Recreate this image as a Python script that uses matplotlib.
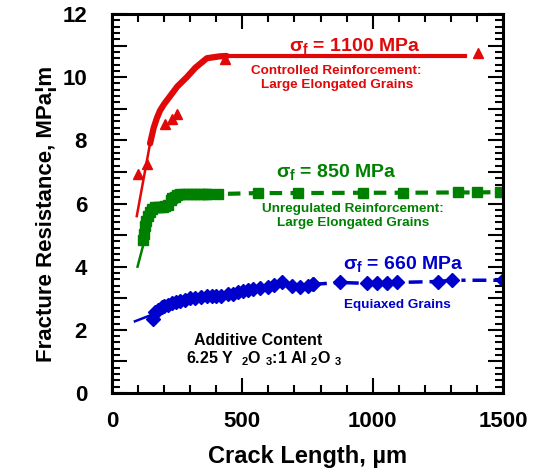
import numpy as np
import matplotlib
matplotlib.use("Agg")
import matplotlib.pyplot as plt
from matplotlib.ticker import MultipleLocator, FuncFormatter

# colours
RED, GREEN, BLUE = "#e00808", "#008000", "#0000cc"

# --- data (crack length in um, resistance in MPa*sqrt(m)) ---
# controlled reinforcement, sigma_f = 1100 MPa
red_fit_x = [95, 146]
red_fit_y = [5.6, 7.9]
red_band_x = [146, 160, 172, 184, 200, 222, 250, 287, 320, 364, 414, 440]
red_band_y = [7.9, 8.4, 8.7, 8.94, 9.15, 9.39, 9.7, 10.0, 10.3, 10.6, 10.66, 10.67]
red_flat_x = [440, 1354]
red_flat_y = [10.68, 10.68]
red_tri_x = [100, 134, 203, 229, 250, 433, 1404]
red_tri_y = [6.94, 7.26, 8.53, 8.66, 8.82, 10.57, 10.75]

# unregulated reinforcement, sigma_f = 850 MPa
green_fit_x = [98, 125]
green_fit_y = [4.0, 4.85]
green_band_x = [120, 124, 128, 132, 138, 146, 155, 165, 175, 185, 195, 205, 215,
                225, 232, 240, 250, 262, 275, 290, 305, 320, 335, 350, 365]
green_band_y = [4.85, 5.05, 5.3, 5.45, 5.6, 5.72, 5.82, 5.88, 5.88, 5.9, 5.9, 5.92, 5.95,
                6.1, 6.18, 6.22, 6.28, 6.3, 6.3, 6.3, 6.3, 6.3, 6.3, 6.3, 6.3]
green_tail_x = [365, 407, 560, 713, 963, 1116, 1327, 1400, 1488]
green_tail_y = [6.3, 6.3, 6.33, 6.33, 6.34, 6.34, 6.35, 6.35, 6.36]

# equiaxed grains, sigma_f = 660 MPa
blue_fit_x = [88, 160]
blue_fit_y = [2.27, 2.5]
blue_band_x = [157, 165, 177, 190, 200, 215, 230, 245, 261, 280, 300, 318, 340, 363,
               383, 400, 420, 445, 465, 485, 503, 520, 540, 568, 598, 620, 651, 690, 721, 750, 771]
blue_band_y = [2.35, 2.55, 2.64, 2.72, 2.75, 2.8, 2.85, 2.88, 2.9, 2.95, 3.0, 3.02, 3.05, 3.06,
               3.06, 3.07, 3.08, 3.12, 3.15, 3.2, 3.22, 3.26, 3.3, 3.34, 3.37, 3.42, 3.5, 3.4, 3.37, 3.4, 3.44]
blue_tail_x = [771, 875, 978, 1016, 1055, 1093, 1251, 1304, 1500]
blue_tail_y = [3.44, 3.5, 3.47, 3.47, 3.47, 3.5, 3.53, 3.57, 3.57]

plt.rcParams["font.family"] = ["Liberation Sans", "DejaVu Sans"]
plt.rcParams["font.weight"] = "bold"
plt.rcParams["mathtext.fontset"] = "custom"
plt.rcParams["mathtext.rm"] = "Liberation Sans:bold"
plt.rcParams["mathtext.it"] = "Liberation Sans:bold"
plt.rcParams["mathtext.bf"] = "Liberation Sans:bold"
plt.rcParams["mathtext.default"] = "bf"

fig = plt.figure(figsize=(5.34, 4.72), dpi=100)
ax = fig.add_axes([112 / 534, 1 - 393 / 472, 391 / 534, 379 / 472])

# red
ax.plot(red_fit_x, red_fit_y, "-", color=RED, lw=1.8)
ax.plot(red_band_x, red_band_y, "-", color=RED, lw=4.5, solid_capstyle="round")
ax.plot(red_flat_x, red_flat_y, "-", color=RED, lw=3)
ax.plot(red_tri_x, red_tri_y, "^", color=RED, ms=7.5, ls="none")

# green
ax.plot(green_fit_x, green_fit_y, "-", color=GREEN, lw=1.8)
ax.plot(green_band_x, green_band_y, "s", color=GREEN, ms=7, ls="-", lw=3)
ax.plot(green_tail_x, green_tail_y, "s", color=GREEN, ms=6.5, ls=(0, (3, 2)), lw=3)

# blue
ax.plot(blue_fit_x, blue_fit_y, "-", color=BLUE, lw=1.8)
ax.plot(blue_band_x, blue_band_y, "D", color=BLUE, ms=7.5, ls="-", lw=2.5)
ax.plot(blue_tail_x, blue_tail_y, "D", color=BLUE, ms=7, ls=(0, (4, 2, 1.2, 2)), lw=2.5)

ax.set_xlim(0, 1500)
ax.set_ylim(0, 12)
ax.xaxis.set_major_locator(MultipleLocator(500))
ax.xaxis.set_minor_locator(MultipleLocator(100))
ax.yaxis.set_major_locator(MultipleLocator(1))
ax.yaxis.set_minor_locator(MultipleLocator(0.2))
ax.yaxis.set_major_formatter(FuncFormatter(lambda v, p: f"{int(v)}" if int(round(v)) % 2 == 0 else ""))

for s in ax.spines.values():
    s.set_linewidth(2.2)
ax.tick_params(which="both", direction="in", top=True, right=True, width=1.5)
ax.tick_params(which="major", length=11, labelsize=16)
ax.tick_params(which="minor", length=5.5)
ax.tick_params(axis="x", pad=13)
ax.tick_params(axis="y", pad=18)

ax.set_xlabel("Crack Length, µm", fontsize=17, fontweight="bold", labelpad=9)
ax.set_ylabel("Fracture Resistance, MPa¦m", fontsize=16, fontweight="bold")
ax.yaxis.set_label_coords(-0.141, 0.472)

ax.text(932, 11.0, r"$\sigma_f$ = 1100 MPa", color=RED, fontsize=14, ha="center", va="center")
ax.text(862, 9.98, "Controlled Reinforcement:\nLarge Elongated Grains", color=RED,
        fontsize=9.7, ha="center", va="center", linespacing=1.25)
ax.text(862, 7.0, r"$\sigma_f$ = 850 MPa", color=GREEN, fontsize=14, ha="center", va="center")
ax.text(925, 5.6, "Unregulated Reinforcement:\nLarge Elongated Grains", color=GREEN,
        fontsize=9.7, ha="center", va="center", linespacing=1.25)
ax.text(1120, 4.07, r"$\sigma_f$ = 660 MPa", color=BLUE, fontsize=14, ha="center", va="center")
ax.text(1095, 2.8, "Equiaxed Grains", color=BLUE, fontsize=9.7, ha="center", va="center")
ax.text(560, 1.66, "Additive Content", color="black", fontsize=11.5, ha="center", va="center")
ax.text(583, 1.1, "6.25 Y  $_2$O $_3$:1 Al $_2$O $_3$", color="black", fontsize=11.5,
        ha="center", va="center")

fig.savefig("out.png", dpi=100)
